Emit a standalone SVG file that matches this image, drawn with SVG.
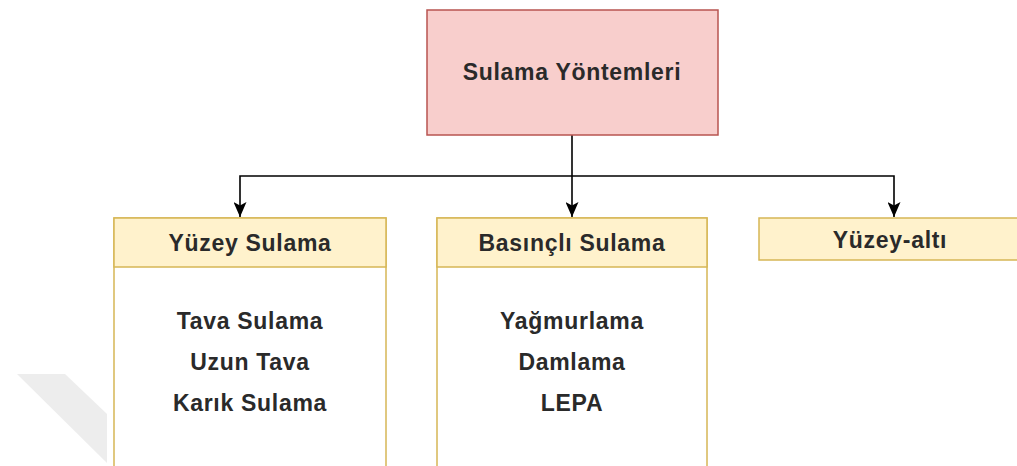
<svg xmlns="http://www.w3.org/2000/svg" width="1017" height="466" viewBox="0 0 1017 466">
  <defs>
    <marker id="arrow" markerWidth="15" markerHeight="13" refX="15" refY="6.5" orient="auto" markerUnits="userSpaceOnUse" viewBox="0 0 15 13">
      <path d="M0,0 L15,6.5 L0,13 L3.5,6.5 Z" fill="#000"/>
    </marker>
    <style>
      .txt { font-family: "Liberation Sans", Arial, sans-serif; font-size: 23px; font-weight: bold; fill: #2a2a2a; text-anchor: middle; letter-spacing: 0.7px; }
      .hdr { fill: #fff2cc; stroke: #d6b656; stroke-width: 1.5; }
      .body { fill: #ffffff; stroke: #d6b656; stroke-width: 1.5; }
      .edge { fill: none; stroke: #000; stroke-width: 1.6; }
    </style>
  </defs>
  <rect x="0" y="0" width="1017" height="466" fill="#ffffff"/>
  <polygon points="17,374 65,374 107,414 107,463" fill="#ededed"/>

  <g id="connectors">
    <path class="edge" d="M572,135 L572,217" marker-end="url(#arrow)"/>
    <path class="edge" d="M572,176 L240,176 L240,217" marker-end="url(#arrow)"/>
    <path class="edge" d="M572,176 L894,176 L894,217" marker-end="url(#arrow)"/>
  </g>

  <g id="root">
    <rect x="427" y="10" width="291" height="125" fill="#f8cecc" stroke="#b85450" stroke-width="1.5"/>
    <text class="txt" x="572" y="80">Sulama Yöntemleri</text>
  </g>

  <g id="yuzey">
    <rect class="body" x="114" y="218" width="272" height="260"/>
    <rect class="hdr" x="114" y="218" width="272" height="49"/>
    <text class="txt" x="250" y="251">Yüzey Sulama</text>
    <text class="txt" x="250" y="329">Tava Sulama</text>
    <text class="txt" x="250" y="370">Uzun Tava</text>
    <text class="txt" x="250" y="411">Karık Sulama</text>
  </g>

  <g id="basincli">
    <rect class="body" x="437" y="218" width="270" height="260"/>
    <rect class="hdr" x="437" y="218" width="270" height="49"/>
    <text class="txt" x="572" y="251">Basınçlı Sulama</text>
    <text class="txt" x="572" y="329">Yağmurlama</text>
    <text class="txt" x="572" y="370">Damlama</text>
    <text class="txt" x="572" y="411">LEPA</text>
  </g>

  <g id="yuzeyalti">
    <rect class="hdr" x="759" y="218" width="270" height="42"/>
    <text class="txt" x="890" y="248">Yüzey-altı</text>
  </g>
</svg>
